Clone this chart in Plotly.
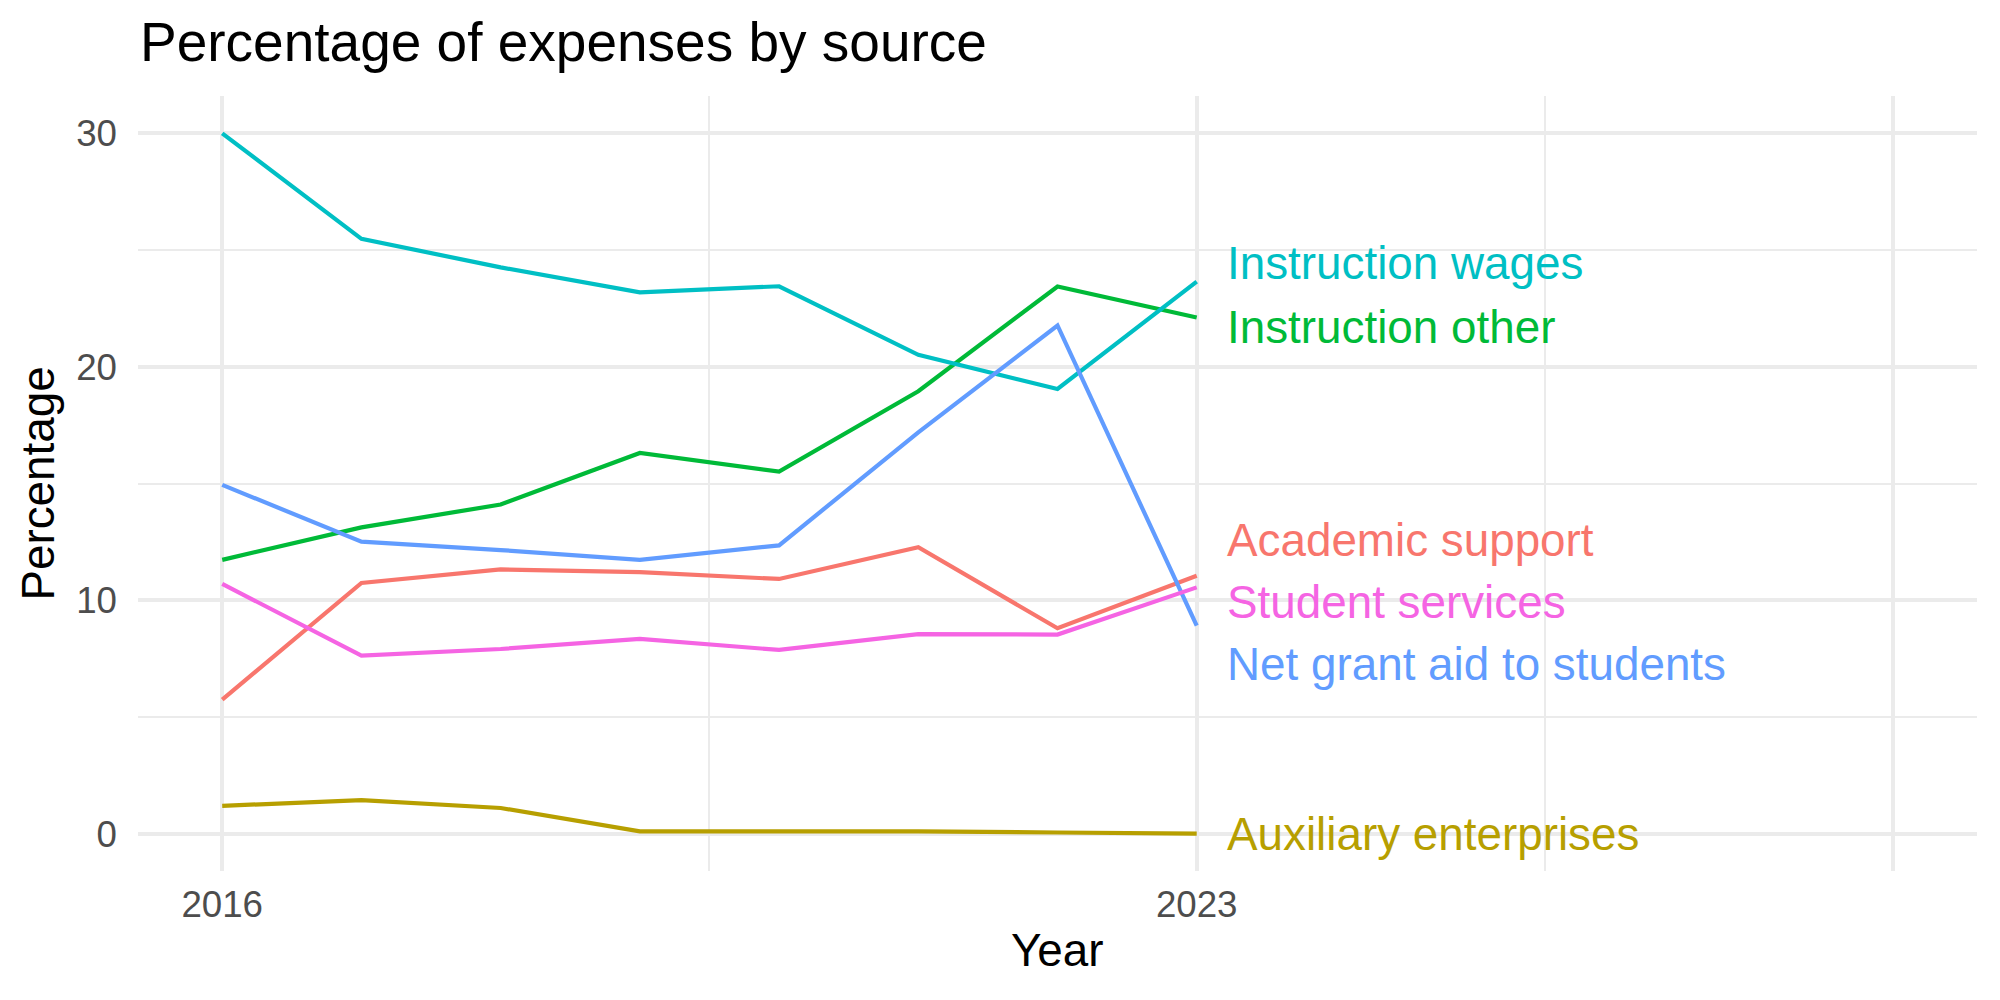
import plotly.graph_objects as go

years = [2016, 2017, 2018, 2019, 2020, 2021, 2022, 2023]

series_names = [
    "Academic support",
    "Auxiliary enterprises",
    "Instruction other",
    "Instruction wages",
    "Net grant aid to students",
    "Student services",
]
series_colors = ["#F8766D", "#B79F00", "#00BA38", "#00BFC4", "#619CFF", "#F564E3"]

academic_support = [5.74, 10.74, 11.32, 11.20, 10.91, 12.27, 8.80, 11.05]
auxiliary_enterprises = [1.19, 1.44, 1.10, 0.10, 0.10, 0.10, 0.05, 0.00]
instruction_other = [11.73, 13.12, 14.10, 16.31, 15.51, 18.95, 23.44, 22.11]
instruction_wages = [30.00, 25.48, 24.26, 23.19, 23.45, 20.51, 19.05, 23.65]
net_grant_aid = [14.94, 12.51, 12.15, 11.73, 12.35, 17.19, 21.77, 8.91]
student_services = [10.70, 7.63, 7.91, 8.34, 7.87, 8.55, 8.53, 10.55]

series_values = [
    academic_support,
    auxiliary_enterprises,
    instruction_other,
    instruction_wages,
    net_grant_aid,
    student_services,
]

# repelled label positions (end-of-line labels)
label_x = 2023.2
label_y = [12.54, -0.04, 21.70, 24.42, 7.23, 9.90]

x_major = [2016, 2023, 2028]
x_major_text = ["2016", "2023", ""]
x_minor = [2019.5, 2025.5]
y_major = [0, 10, 20, 30]
y_minor = [5, 15, 25]

FONT = "Liberation Sans"
GRID = "#EBEBEB"

fig = go.Figure()
for name, color, vals in zip(series_names, series_colors, series_values):
    fig.add_trace(go.Scatter(
        x=years, y=vals, mode="lines", name=name,
        line=dict(color=color, width=4.2),
        showlegend=False, hoverinfo="skip",
    ))

for name, color, ly in zip(series_names, series_colors, label_y):
    fig.add_annotation(
        x=label_x, y=ly, xref="x", yref="y", text=name,
        showarrow=False, xanchor="left", yanchor="middle",
        font=dict(family=FONT, size=45.8, color=color),
    )

# x axis title, centred under the panel
fig.add_annotation(
    x=0.5, y=-(950 - 871) / 775, xref="paper", yref="paper", text="Year",
    showarrow=False, xanchor="center", yanchor="middle",
    font=dict(family=FONT, size=45.8, color="#000000"),
)

fig.update_layout(
    width=2000, height=1000,
    margin=dict(l=138, r=23, t=96, b=129),
    paper_bgcolor="white", plot_bgcolor="white",
    title=dict(
        text="Percentage of expenses by source",
        x=140 / 2000, xanchor="left", xref="container",
        y=1 - 42 / 1000, yanchor="middle", yref="container",
        font=dict(family=FONT, size=55, color="#000000"),
    ),
    font=dict(family=FONT),
)

fig.update_xaxes(
    range=[2015.395, 2028.605],
    tickmode="array", tickvals=x_major, ticktext=x_major_text,
    showgrid=True, gridcolor=GRID, gridwidth=4,
    minor=dict(tickmode="array", tickvals=x_minor, showgrid=True,
               gridcolor=GRID, gridwidth=2, ticks=""),
    zeroline=False, showline=False, ticks="",
    tickfont=dict(family=FONT, size=36.7, color="#4D4D4D"),
    ticklabelstandoff=8,
)
fig.update_yaxes(
    range=[-1.6, 31.6],
    tickmode="array", tickvals=y_major, ticktext=[str(v) for v in y_major],
    showgrid=True, gridcolor=GRID, gridwidth=4,
    minor=dict(tickmode="array", tickvals=y_minor, showgrid=True,
               gridcolor=GRID, gridwidth=2, ticks=""),
    zeroline=False, showline=False, ticks="",
    tickfont=dict(family=FONT, size=36.7, color="#4D4D4D"),
    ticklabelstandoff=20,
    title=dict(text="Percentage", standoff=7,
               font=dict(family=FONT, size=45.8, color="#000000")),
)

fig.write_html("out.html")
